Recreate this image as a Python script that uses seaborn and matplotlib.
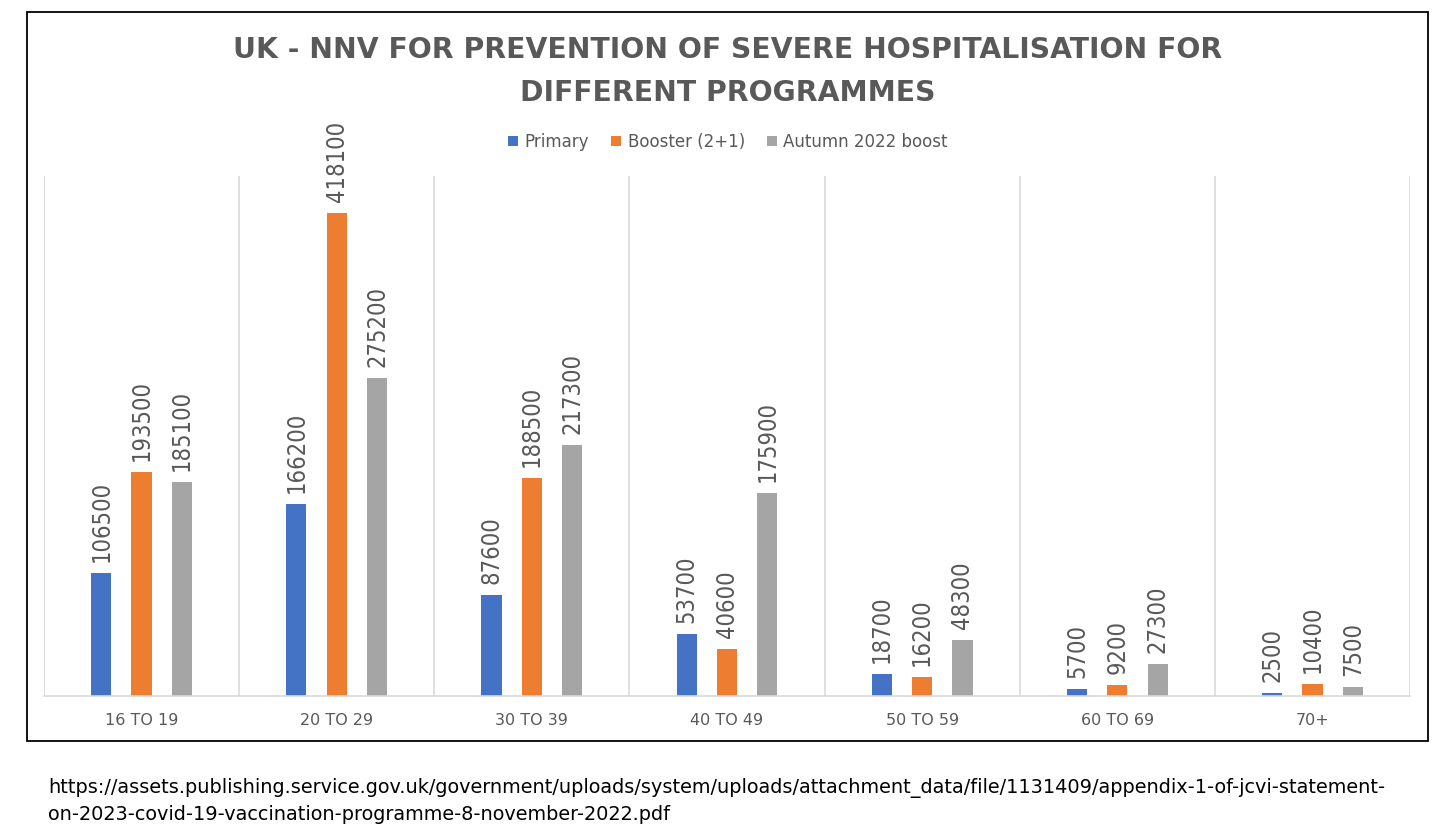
import numpy as np
import pandas as pd
import matplotlib.pyplot as plt
import matplotlib.patches as mpatches
import seaborn as sns

# data
ages = ['16 TO 19', '20 TO 29', '30 TO 39', '40 TO 49', '50 TO 59', '60 TO 69', '70+']
primary = [106500, 166200, 87600, 53700, 18700, 5700, 2500]
booster = [193500, 418100, 188500, 40600, 16200, 9200, 10400]
autumn = [185100, 275200, 217300, 175900, 48300, 27300, 7500]
programmes = ['Primary', 'Booster (2+1)', 'Autumn 2022 boost']
colors = ['#4472C4', '#ED7D31', '#A5A5A5']

title = 'UK - NNV FOR PREVENTION OF SEVERE HOSPITALISATION FOR\nDIFFERENT PROGRAMMES'
source = ('https://assets.publishing.service.gov.uk/government/uploads/system/uploads/'
          'attachment_data/file/1131409/appendix-1-of-jcvi-statement-\n'
          'on-2023-covid-19-vaccination-programme-8-november-2022.pdf')

df = pd.DataFrame({
    'age': ages * 3,
    'programme': np.repeat(programmes, len(ages)),
    'nnv': primary + booster + autumn,
})

grey = '#595959'

fig = plt.figure(figsize=(14.56, 8.38), dpi=100)
ax = fig.add_axes([44 / 1456, 1 - 696 / 838, 1366 / 1456, 520 / 838])

sns.barplot(data=df, x='age', y='nnv', hue='programme', palette=colors,
            width=0.62, gap=0.5, ax=ax, saturation=1)

# rotated value labels above each bar
for c in ax.containers:
    ax.bar_label(c, labels=[str(int(v)) for v in c.datavalues], rotation=90,
                 padding=8, fontsize=17, color=grey, fontstretch='condensed')

ax.set_ylim(0, 450000)
ax.set_xlim(-0.5, len(ages) - 0.5)
ax.set_xlabel('')
ax.set_ylabel('')
ax.set_yticks([])
ax.set_xticks(np.arange(len(ages) + 1) - 0.5, minor=True)
ax.grid(axis='x', which='minor', color='#d9d9d9', lw=1.2)
ax.grid(axis='x', which='major', visible=False)
ax.tick_params(axis='x', which='both', length=0, pad=12, labelsize=11.5, labelcolor=grey)
for s in ['top', 'left', 'right']:
    ax.spines[s].set_visible(False)
ax.spines['bottom'].set_color('#d9d9d9')
ax.spines['bottom'].set_linewidth(1.2)

handles, labels = ax.get_legend_handles_labels()
ax.get_legend().remove()
fig.legend(handles, labels, loc='center', bbox_to_anchor=(0.5, 1 - 142 / 838), ncol=3,
           frameon=False, handlelength=0.6, handleheight=0.6, handletextpad=0.4,
           columnspacing=1.3, fontsize=12, labelcolor=grey)

fig.text(0.5, 1 - 71.5 / 838, title, ha='center', va='center', fontsize=20.3,
         fontweight='bold', color=grey, linespacing=1.65)

fig.text(48 / 1456, 1 - 778 / 838, source, ha='left', va='top', fontsize=13.9,
         color='black', linespacing=1.45)

frame = mpatches.Rectangle((27 / 1456, 1 - 741 / 838), 1401 / 1456, 729 / 838,
                           transform=fig.transFigure, fill=False, ec='black', lw=1.3)
fig.add_artist(frame)

plt.savefig('out.png', dpi=100)
